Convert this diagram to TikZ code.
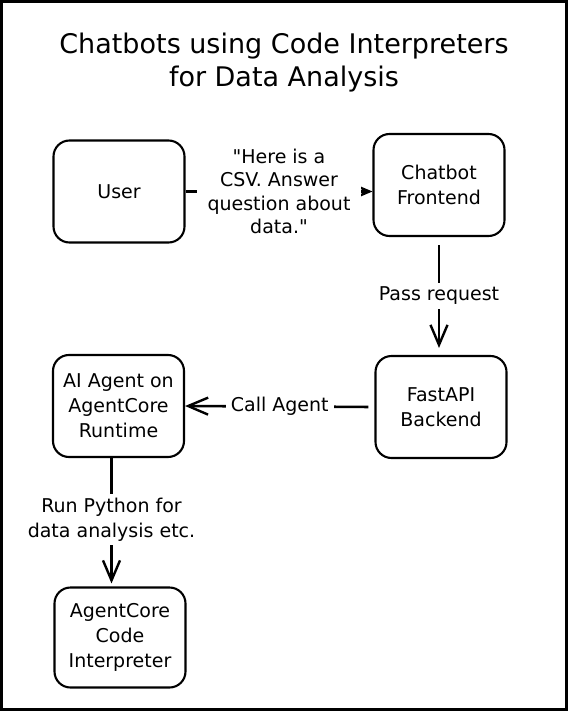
\documentclass[tikz,border=0pt]{standalone}
\usepackage{fontspec}
\setmainfont{DejaVu Sans}[Ligatures=TeXOff]
\usetikzlibrary{arrows.meta}
\begin{document}
\begin{tikzpicture}[x=1pt,y=1pt,
  box/.style={draw=black, line width=2.1pt, rounded corners=16pt, minimum width=131pt, minimum height=102pt, align=center, font=\fontsize{19}{25}\selectfont, inner sep=2pt},
  conn/.style={draw=black, line width=2.6pt, -{Straight Barb[length=20pt,width=17pt,line width=2.4pt]}},
  lbl/.style={fill=white, align=center, font=\fontsize{19}{23.3}\selectfont, inner sep=4pt}
]
\useasboundingbox (0,0) rectangle (568,-711);
\draw[line width=3pt] (1.5,-1.5) rectangle (566.5,-709.5);
\node[font=\fontsize{27}{33}\selectfont, align=center] (title) at (284,-63) {Chatbots using Code Interpreters\\for Data Analysis};
\node[box] (user) at (119,-191.5) {User};
\node[box] (front) at (439,-185) {Chatbot\\Frontend};
\node[box] (back) at (441,-407) {FastAPI\\Backend};
\node[box] (agent) at (118.5,-406) {AI Agent on\\AgentCore\\Runtime};
\node[box, minimum height=100pt] (ci) at (120,-637.5) {AgentCore\\Code\\Interpreter};
\draw[conn] (user.east) -- node[lbl, minimum width=164pt] {"Here is a\\CSV. Answer\\question about\\data."} (front.west |- user.east);
\draw[conn, shorten <=8pt, shorten >=7pt] (front.south) -- node[lbl, pos=0.5] {Pass request} (front.south |- back.north);
\draw[conn, shorten <=6pt] (back.west) -- node[lbl, pos=0.5, inner xsep=5pt] {Call Agent} (agent.east);
\draw[conn, shorten >=3pt] (agent.south) ++(-7pt,0) coordinate (as) -- node[lbl, pos=0.48, font=\fontsize{19}{25}\selectfont] {Run Python for\\data analysis etc.} (as |- ci.north);
\end{tikzpicture}
\end{document}
